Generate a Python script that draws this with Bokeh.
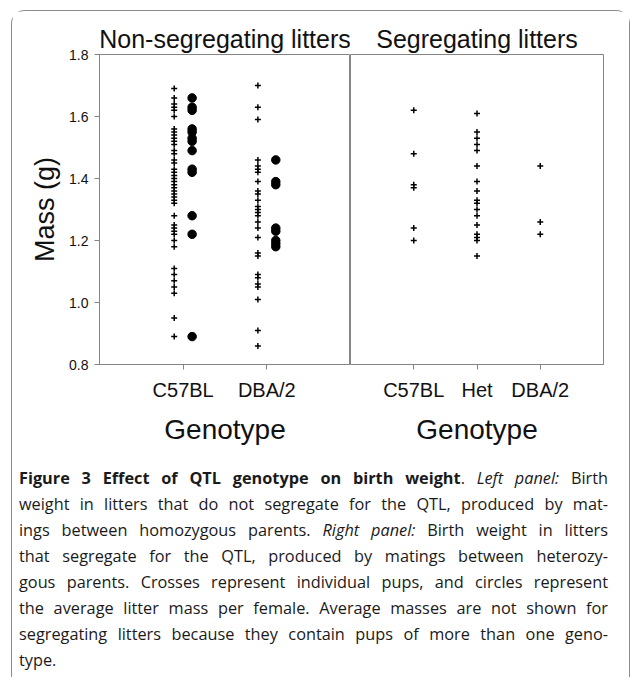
from bokeh.plotting import figure
from bokeh.models import FactorRange, Range1d, FixedTicker, PrintfTickFormatter, Title, Div, ColumnDataSource
from bokeh.layouts import row, column
from bokeh.transform import dodge
from bokeh.embed import file_html
from bokeh.resources import INLINE

# ---------------- data ----------------
panel_titles = ["Non-segregating litters", "Segregating litters"]
left_genotypes = ["C57BL", "DBA/2"]
right_genotypes = ["C57BL", "Het", "DBA/2"]
y_ticks = [0.8, 1.0, 1.2, 1.4, 1.6, 1.8]

# non-segregating litters: individual pups (crosses)
nonseg_c57_pups = [1.69, 1.66, 1.64, 1.63, 1.62, 1.60, 1.56, 1.55, 1.54, 1.53, 1.52, 1.51,
                   1.49, 1.48, 1.46, 1.45, 1.43, 1.42, 1.41, 1.40, 1.39, 1.38, 1.37, 1.36,
                   1.35, 1.34, 1.33, 1.32, 1.28, 1.25, 1.24, 1.23, 1.22, 1.20, 1.18,
                   1.11, 1.09, 1.07, 1.05, 1.03, 0.95, 0.89]
nonseg_dba_pups = [1.70, 1.63, 1.59, 1.46, 1.44, 1.43, 1.42, 1.39, 1.36, 1.35, 1.33, 1.31,
                   1.30, 1.29, 1.28, 1.26, 1.24, 1.21, 1.16, 1.15, 1.09, 1.08, 1.06, 1.05,
                   1.01, 0.91, 0.86]
# non-segregating litters: average litter mass per female (circles)
nonseg_c57_means = [1.66, 1.63, 1.62, 1.56, 1.55, 1.53, 1.52, 1.49, 1.43, 1.42, 1.28, 1.22, 0.89]
nonseg_dba_means = [1.46, 1.39, 1.38, 1.24, 1.23, 1.20, 1.19, 1.18]

# segregating litters: individual pups
seg_c57_pups = [1.62, 1.48, 1.38, 1.37, 1.24, 1.20]
seg_het_pups = [1.61, 1.55, 1.53, 1.51, 1.49, 1.44, 1.39, 1.36, 1.33, 1.32, 1.30, 1.28,
                1.25, 1.22, 1.21, 1.20, 1.15]
seg_dba_pups = [1.44, 1.26, 1.22]

caption_lines = [
    "<b>Figure 3 Effect of QTL genotype on birth weight</b>. <i>Left panel:</i> Birth",
    "weight in litters that do not segregate for the QTL, produced by mat-",
    "ings between homozygous parents. <i>Right panel:</i> Birth weight in litters",
    "that segregate for the QTL, produced by matings between heterozy-",
    "gous parents. Crosses represent individual pups, and circles represent",
    "the average litter mass per female. Average masses are not shown for",
    "segregating litters because they contain pups of more than one geno-",
    "type.",
]

# ---------------- styling ----------------
FONT = "Liberation Sans"
FRAME = "#858585"
TXT = "#111111"
DODGE = 0.107

y_range = Range1d(0.8, 1.8)


def style_common(p, title):
    p.background_fill_color = "white"
    p.border_fill_color = "white"
    p.outline_line_color = FRAME
    p.outline_line_width = 1
    p.xgrid.visible = False
    p.ygrid.visible = False
    t = Title(text=title, align="center", text_font=FONT, text_font_size="25px",
              text_font_style="normal", text_color=TXT, standoff=3)
    p.add_layout(t, "above")
    ax = p.xaxis[0]
    ax.axis_line_color = FRAME
    ax.major_tick_line_color = FRAME
    ax.major_tick_in = 0
    ax.major_tick_out = 5
    ax.minor_tick_line_color = None
    ax.major_label_text_font = FONT
    ax.major_label_text_font_size = "20px"
    ax.major_label_text_color = TXT
    ax.major_label_standoff = 9
    ax.axis_label = "Genotype"
    ax.axis_label_text_font = FONT
    ax.axis_label_text_font_size = "28px"
    ax.axis_label_text_font_style = "normal"
    ax.axis_label_text_color = TXT
    ax.axis_label_standoff = 10


# ---- left panel ----
pl = figure(width=338, height=441, output_backend="svg", toolbar_location=None,
            x_range=FactorRange(factors=left_genotypes, range_padding=0.5,
                                range_padding_units="percent"),
            y_range=y_range, min_border_left=87, min_border_right=0,
            min_border_top=43, min_border_bottom=88)
style_common(pl, panel_titles[0])
yax = pl.yaxis[0]
yax.ticker = FixedTicker(ticks=y_ticks)
yax.formatter = PrintfTickFormatter(format="%.1f")
yax.axis_line_color = FRAME
yax.major_tick_line_color = FRAME
yax.major_tick_in = 0
yax.major_tick_out = 5
yax.minor_tick_line_color = None
yax.major_label_text_font = FONT
yax.major_label_text_font_size = "14px"
yax.major_label_text_color = TXT
yax.major_label_standoff = 6
yax.axis_label = "Mass (g)"
yax.axis_label_text_font = FONT
yax.axis_label_text_font_size = "27px"
yax.axis_label_text_font_style = "normal"
yax.axis_label_text_color = TXT
yax.axis_label_standoff = 6

nl_pups = ColumnDataSource(dict(
    g=[left_genotypes[0]] * len(nonseg_c57_pups) + [left_genotypes[1]] * len(nonseg_dba_pups),
    m=nonseg_c57_pups + nonseg_dba_pups))
nl_means = ColumnDataSource(dict(
    g=[left_genotypes[0]] * len(nonseg_c57_means) + [left_genotypes[1]] * len(nonseg_dba_means),
    m=nonseg_c57_means + nonseg_dba_means))
pl.scatter(x=dodge("g", -DODGE, range=pl.x_range), y="m", source=nl_pups,
           marker="cross", size=6, line_width=1.5, line_color="black")
pl.scatter(x=dodge("g", DODGE, range=pl.x_range), y="m", source=nl_means,
           marker="circle", size=8.5, fill_color="black", line_color="black")

# ---- right panel ----
pr = figure(width=279, height=441, output_backend="svg", toolbar_location=None,
            x_range=FactorRange(factors=right_genotypes, range_padding=1 / 3,
                                range_padding_units="percent"),
            y_range=y_range, y_axis_location=None, min_border_left=0, min_border_right=26,
            min_border_top=43, min_border_bottom=88)
style_common(pr, panel_titles[1])
sr_pups = ColumnDataSource(dict(
    g=[right_genotypes[0]] * len(seg_c57_pups) + [right_genotypes[1]] * len(seg_het_pups)
      + [right_genotypes[2]] * len(seg_dba_pups),
    m=seg_c57_pups + seg_het_pups + seg_dba_pups))
pr.scatter(x="g", y="m", source=sr_pups, marker="cross", size=6, line_width=1.5,
           line_color="black")

# ---- caption ----
line_css = "text-align:justify;text-align-last:justify;"
html_lines = []
for i, ln in enumerate(caption_lines):
    css = line_css if i < len(caption_lines) - 1 else "text-align:left;"
    html_lines.append(f'<div style="{css}">{ln}</div>')
caption_html = ('<div style="font-family:\'Open Sans\';font-size:16.3px;line-height:26px;'
                'color:#1a1a1a;padding:13px 7px 0 7px;width:603px;">'
                + "".join(html_lines) + "</div>")
cap = Div(text=caption_html, width=617, height=225, margin=0)

layout = column(row(pl, pr, spacing=0), cap, spacing=0, margin=(10, 0, 0, 11),
                styles={"border": "1px solid #8c8c8c", "border-bottom": "none",
                        "border-radius": "14px 14px 0 0", "background": "white"})

open("out.html", "w").write(file_html(layout, INLINE))
